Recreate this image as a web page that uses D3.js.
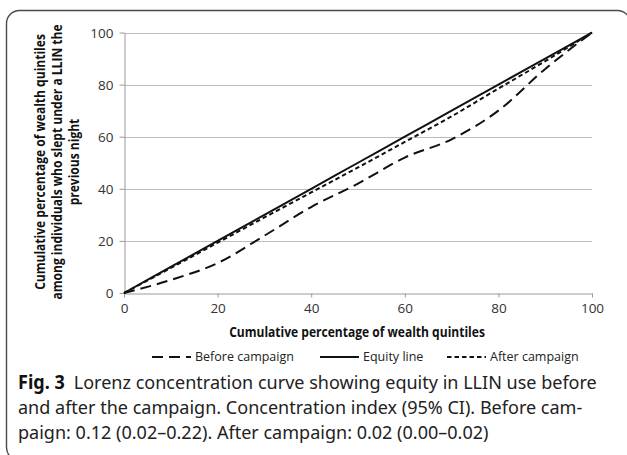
<!DOCTYPE html>
<html>
<head>
<meta charset="utf-8">
<script src="https://cdn.jsdelivr.net/npm/d3@7"></script>
<style>
  body { margin: 0; background: #fff; }
  text { font-family: "Open Sans", "Noto Sans", sans-serif; }
</style>
</head>
<body>
<div id="chart"></div>
<script>
// wealth quintile percentages (x) and the three curves
var xValues = [0, 10, 20, 30, 40, 50, 60, 70, 80, 90, 100];
var beforeCampaign = [0, 5, 11.5, 22, 33, 42, 52, 59, 70, 86, 100];
var equityLine = [0, 10, 20, 30, 40, 50, 60, 70, 80, 90, 100];
var afterCampaign = [0, 9.6, 19.3, 29, 38.6, 48.2, 58, 67.8, 78.5, 89, 100];
var xTicks = [0, 20, 40, 60, 80, 100];
var yTicks = [0, 20, 40, 60, 80, 100];
var seriesNames = ["Before campaign", "Equity line", "After campaign"];
var yTitle = ["Cumulative percentage of wealth quintiles",
              "among individuals who slept under a LLIN the",
              "previous night"];
var xTitle = "Cumulative percentage of wealth quintiles";
var figLabel = "Fig. 3";
var captionLines = [
  "Lorenz concentration curve showing equity in LLIN use before",
  "and after the campaign. Concentration index (95% CI). Before cam-",
  "paign: 0.12 (0.02\u20130.22). After campaign: 0.02 (0.00\u20130.02)"
];

function init() {
    var w = 627;
    var h = 455;

    var svg = d3.select("#chart")
        .append("svg")
        .attr("width", w)
        .attr("height", h);

    // rounded frame
    svg.append("rect")
        .attr("x", 6.5).attr("y", 10.5)
        .attr("width", 624).attr("height", 450)
        .attr("rx", 13)
        .attr("fill", "none")
        .attr("stroke", "#4a4a4a")
        .attr("stroke-width", 1.4);

    var x = d3.scaleLinear().domain([0, 100]).range([124, 592]);
    var y = d3.scaleLinear().domain([0, 100]).range([293, 32.5]);

    // gridlines
    svg.selectAll(".grid")
        .data(yTicks.slice(1))
        .enter()
        .append("line")
        .attr("x1", x(0)).attr("x2", x(100))
        .attr("y1", function(d) { return Math.round(y(d)) + 0.5; })
        .attr("y2", function(d) { return Math.round(y(d)) + 0.5; })
        .attr("stroke", "#bcbcbc")
        .attr("stroke-width", 1);

    // axes
    var xAxis = svg.append("g")
        .attr("transform", "translate(0," + (Math.round(y(0)) + 0.5) + ")")
        .call(d3.axisBottom(x).tickValues(xTicks).tickSize(4).tickPadding(6).tickSizeOuter(0));
    var yAxis = svg.append("g")
        .attr("transform", "translate(" + (x(0) + 0.5) + ",0)")
        .call(d3.axisLeft(y).tickValues(yTicks).tickSize(5).tickPadding(6).tickSizeOuter(0));

    [xAxis, yAxis].forEach(function(a) {
        a.select(".domain").attr("stroke", "#9a9a9a");
        a.selectAll(".tick line").attr("stroke", "#9a9a9a");
        a.selectAll(".tick text")
            .attr("fill", "#333")
            .style("font-family", "'Open Sans', sans-serif")
            .style("font-size", "13.5px");
    });
    yAxis.selectAll(".tick text").attr("dy", "0.35em");

    // curves
    var line = d3.line()
        .x(function(d) { return x(d[0]); })
        .y(function(d) { return y(d[1]); })
        .curve(d3.curveMonotoneX);

    var series = [
        { values: beforeCampaign, dash: "11,6" },
        { values: equityLine, dash: null },
        { values: afterCampaign, dash: "4.5,3" }
    ];

    series.forEach(function(s) {
        var pts = xValues.map(function(v, i) { return [v, s.values[i]]; });
        svg.append("path")
            .attr("d", line(pts))
            .attr("fill", "none")
            .attr("stroke", "#111")
            .attr("stroke-width", 2)
            .attr("stroke-dasharray", s.dash);
    });

    // x axis title, squeezed to the reference width
    var xt = svg.append("text")
        .attr("text-anchor", "middle")
        .attr("font-weight", "bold")
        .attr("font-size", "13.5px")
        .attr("fill", "#111")
        .text(xTitle);
    var fx = 256 / xt.node().getComputedTextLength();
    xt.attr("transform", "translate(357,337) scale(" + fx + ",1)");

    // y axis title, three centred lines, same squeeze as the x title
    var ytg = svg.append("g");
    yTitle.forEach(function(t, i) {
        ytg.append("text")
            .attr("x", 0)
            .attr("y", i * 17)
            .attr("text-anchor", "middle")
            .attr("font-weight", "bold")
            .attr("font-size", "13.5px")
            .attr("fill", "#111")
            .text(t);
    });
    ytg.attr("transform", "translate(45,162) rotate(-90) scale(" + fx + ",1)");

    // legend
    var legendX = [152, 320, 447];
    var legend = svg.selectAll(".legend")
        .data(series)
        .enter()
        .append("g")
        .attr("transform", function(d, i) { return "translate(" + legendX[i] + ",357)"; });
    legend.append("line")
        .attr("x1", 0).attr("x2", 39)
        .attr("stroke", "#111")
        .attr("stroke-width", 2)
        .attr("stroke-dasharray", function(d) { return d.dash; });
    legend.append("text")
        .attr("x", 43)
        .attr("dy", "0.35em")
        .attr("font-size", "12.5px")
        .attr("fill", "#222")
        .text(function(d, i) { return seriesNames[i]; });

    // caption, narrowed to match the condensed typeface of the figure
    var cap = svg.append("g");
    captionLines.forEach(function(t, i) {
        var tx = cap.append("text")
            .attr("x", 0)
            .attr("y", 389 + i * 25)
            .attr("font-size", "19px")
            .attr("fill", "#222")
            .style("font-family", "'Noto Sans', sans-serif");
        if (i === 0) {
            tx.append("tspan").attr("font-weight", "bold").attr("fill", "#111").text(figLabel);
            tx.append("tspan").text("\u2002" + t);
        } else {
            tx.text(t);
        }
    });
    var firstLen = cap.select("text").node().getComputedTextLength();
    var fc = 579 / firstLen;
    cap.attr("transform", "translate(18,0) scale(" + fc + ",1)");
}
window.onload = init;
</script>
</body>
</html>
